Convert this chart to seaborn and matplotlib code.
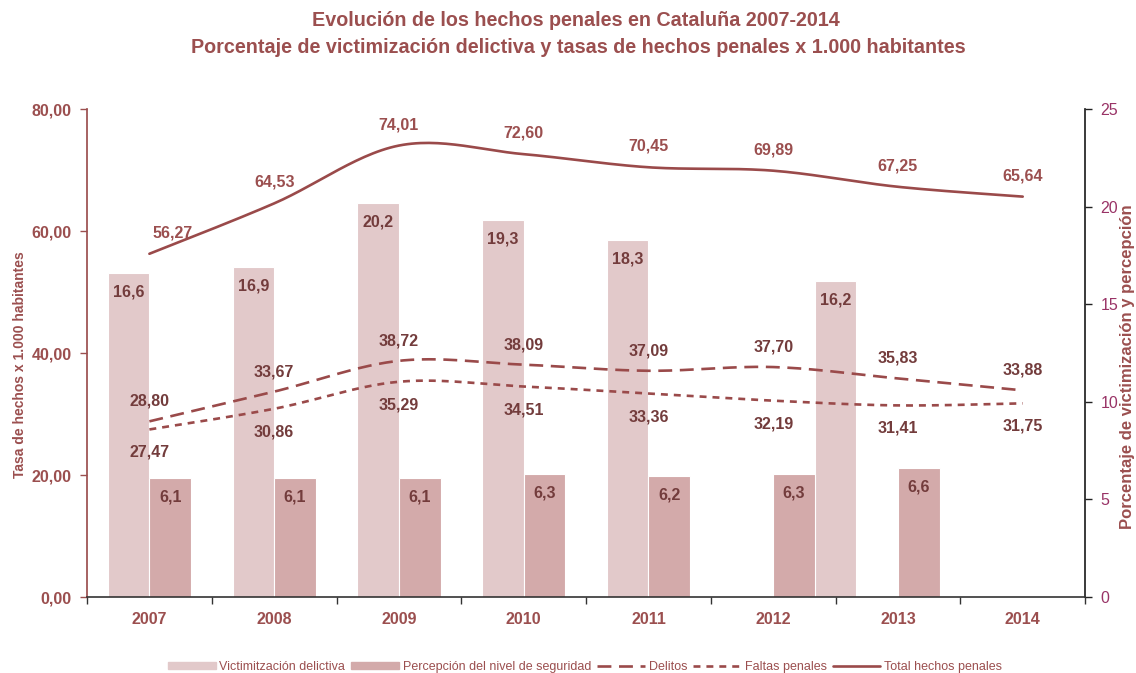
import numpy as np
import matplotlib
matplotlib.use("Agg")
import matplotlib.pyplot as plt
import matplotlib.patches as mpatches
import matplotlib.lines as mlines
import seaborn as sns

# ---------------- data ----------------
years = ["2007", "2008", "2009", "2010", "2011", "2012", "2013", "2014"]
victimizacion = [16.6, 16.9, 20.2, 19.3, 18.3, np.nan, 16.2, np.nan]
percepcion = [6.1, 6.1, 6.1, 6.3, 6.2, 6.3, 6.6, np.nan]
delitos = [28.80, 33.67, 38.72, 38.09, 37.09, 37.70, 35.83, 33.88]
faltas = [27.47, 30.86, 35.29, 34.51, 33.36, 32.19, 31.41, 31.75]
total = [56.27, 64.53, 74.01, 72.60, 70.45, 69.89, 67.25, 65.64]

title1 = "Evolución de los hechos penales en Cataluña 2007-2014"
title2 = "Porcentaje de victimización delictiva y tasas de hechos penales x 1.000 habitantes"
left_label = "Tasa de hechos x 1.000 habitantes"
right_label = "Porcentaje de victimización y percepción"
legend_labels = ["Victimitzación delictiva", "Percepción del nivel de seguridad",
                 "Delitos", "Faltas penales", "Total hechos penales"]

# ---------------- style ----------------
sns.set_theme(style="white")
plt.rcParams["font.family"] = ["Liberation Sans", "DejaVu Sans"]
plt.rcParams["lines.scale_dashes"] = False

C_TEXT = "#9B4F4F"
C_LINE = "#9A4A4A"
C_DARK = "#733C3C"
C_BAR1 = "#E2C9CA"
C_BAR2 = "#D3AAAA"
C_RIGHT = "#993366"

fig = plt.figure(figsize=(11.36, 6.73), dpi=100)
ax = fig.add_axes([0.0766, 0.1129, 0.8786, 0.7251])
ax2 = ax.twinx()
ax.set_zorder(ax2.get_zorder() + 1)
ax.patch.set_visible(False)

x = np.arange(len(years))
w = 1 / 3
# the 2013 victimisation bar sits on the 2012/2013 boundary in the reference
vic_pos = x - w / 2
vic_pos = np.where(np.array(years) == "2013", x - 0.5, vic_pos)
per_pos = x + w / 2

def fmt(v, d):
    return f"{v:.{d}f}".replace(".", ",")

# bars (right axis)
ax2.bar(vic_pos, victimizacion, width=w, color=C_BAR1, edgecolor="white", linewidth=0.8)
ax2.bar(per_pos, percepcion, width=w, color=C_BAR2, edgecolor="white", linewidth=0.8)
for xs, vals in ((vic_pos, victimizacion), (per_pos, percepcion)):
    for xi, v in zip(xs, vals):
        if np.isnan(v):
            continue
        ax2.annotate(fmt(v, 1), (xi, v), xytext=(0, -19), textcoords="offset pixels",
                     ha="center", va="center", fontsize=11.5, fontweight="bold", color=C_DARK)

# smoothed lines (Excel-like Catmull-Rom smoothing)
def smooth(xv, yv, n=30):
    P = np.column_stack([xv, yv]).astype(float)
    ext = np.vstack([P[0], P, P[-1]])
    out = []
    for i in range(len(P) - 1):
        p0, p1, p2, p3 = ext[i], ext[i + 1], ext[i + 2], ext[i + 3]
        c1 = p1 + (p2 - p0) / 6
        c2 = p2 - (p3 - p1) / 6
        t = np.linspace(0, 1, n)[:, None]
        seg = ((1 - t) ** 3) * p1 + 3 * ((1 - t) ** 2) * t * c1 + 3 * (1 - t) * t ** 2 * c2 + t ** 3 * p2
        out.append(seg if i == 0 else seg[1:])
    s = np.vstack(out)
    return s[:, 0], s[:, 1]

series = [
    (total, "-", 21, C_TEXT),
    (delitos, (0, (10, 5.5)), 20, C_DARK),
    (faltas, (0, (5, 4.3)), -23, C_DARK),
]
for vals, ls, off, lc in series:
    sx, sy = smooth(x, vals)
    sns.lineplot(x=sx, y=sy, ax=ax, sort=False, estimator=None, color=C_LINE,
                 linewidth=1.9, linestyle=ls)
    for i, (xi, v) in enumerate(zip(x, vals)):
        dx = 23 if (vals is total and i == 0) else 0
        ax.annotate(fmt(v, 2), (xi, v), xytext=(dx, off), textcoords="offset pixels",
                    ha="center", va="center", fontsize=11.5, fontweight="bold", color=lc)

# axes
ax.set_xlim(-0.5, len(years) - 0.5)
ax.set_ylim(0, 80)
ax2.set_ylim(0, 25)
ax.set_yticks([0, 20, 40, 60, 80])
ax.set_yticklabels([fmt(v, 2) for v in [0, 20, 40, 60, 80]], fontsize=11.5,
                   fontweight="bold", color=C_TEXT)
ax2.set_yticks([0, 5, 10, 15, 20, 25])
ax2.set_yticklabels([str(v) for v in [0, 5, 10, 15, 20, 25]], fontsize=11.5, color=C_RIGHT)

ax.set_xticks(np.arange(-0.5, len(years)), minor=False)
ax.set_xticklabels([])
ax.set_xticks(x, minor=True)
ax.set_xticklabels(years, minor=True, fontsize=11.5, fontweight="bold", color=C_TEXT)
ax.tick_params(axis="x", which="major", direction="out", length=5, width=1, color="#333333", bottom=True)
ax.tick_params(axis="x", which="minor", length=0, pad=11)
ax.tick_params(axis="y", direction="out", length=5, width=1, color=C_TEXT, left=True, pad=6)
ax2.tick_params(axis="y", direction="out", length=5, width=1, color="#222222", right=True, pad=6)

for s in ("top", "right"):
    ax.spines[s].set_visible(False)
ax.spines["left"].set_color(C_TEXT)
ax.spines["bottom"].set_color("#333333")
ax.spines["bottom"].set_linewidth(1.2)
for s in ("top", "left", "bottom"):
    ax2.spines[s].set_visible(False)
ax2.spines["right"].set_color("#222222")
ax.grid(False)
ax2.grid(False)

# labels and titles
fig.text(0.018, 0.458, left_label, rotation=90, ha="center", va="center",
         fontsize=10, fontweight="bold", color=C_TEXT)
fig.text(0.9925, 0.455, right_label, rotation=90, ha="center", va="center",
         fontsize=12, fontweight="bold", color=C_TEXT)
fig.text(0.507, 0.970, title1, ha="center", va="center", fontsize=14.2,
         fontweight="bold", color=C_TEXT)
fig.text(0.509, 0.930, title2, ha="center", va="center", fontsize=14.2,
         fontweight="bold", color=C_TEXT)

# legend
handles = [
    mpatches.Patch(color=C_BAR1),
    mpatches.Patch(color=C_BAR2),
    mlines.Line2D([], [], color=C_LINE, linewidth=1.9, linestyle=(0, (10, 5.5))),
    mlines.Line2D([], [], color=C_LINE, linewidth=1.9, linestyle=(0, (5, 4.3))),
    mlines.Line2D([], [], color=C_LINE, linewidth=1.9),
]
leg = fig.legend(handles, legend_labels, loc="center", bbox_to_anchor=(0.515, 0.009),
                 ncol=5, frameon=False, fontsize=9, handlelength=3.8, handleheight=0.5,
                 handletextpad=0.3, columnspacing=0.5)
for t in leg.get_texts():
    t.set_color(C_TEXT)

fig.savefig("out.png", dpi=100)
